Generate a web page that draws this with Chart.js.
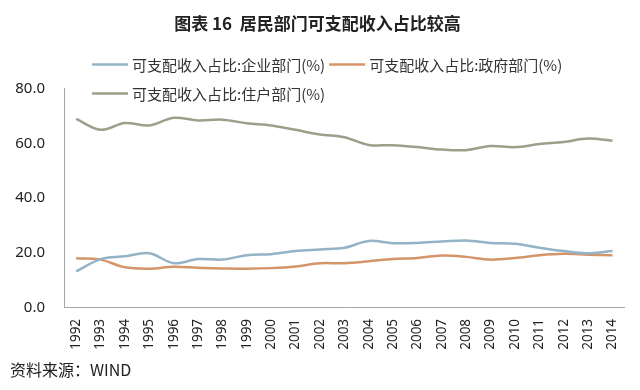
<!DOCTYPE html>
<html>
<head>
<meta charset="utf-8">
<script src="https://cdn.jsdelivr.net/npm/chart.js@4/dist/chart.umd.min.js"></script>
<style>
  html, body { margin: 0; padding: 0; background: #fff; }
  #wrap { width: 640px; height: 390px; }
</style>
</head>
<body>
<div id="wrap"><canvas id="myChart"></canvas></div>
<script>
// 年份
const years = ['1992', '1993', '1994', '1995', '1996', '1997', '1998', '1999', '2000', '2001', '2002', '2003',
  '2004', '2005', '2006', '2007', '2008', '2009', '2010', '2011', '2012', '2013', '2014'];

// 可支配收入占比 (%)
const corporate = [13.3, 17.8, 18.8, 19.9, 16.3, 17.8, 17.6, 19.2, 19.6, 20.7, 21.3, 21.9,
  24.4, 23.6, 23.7, 24.2, 24.6, 23.7, 23.4, 21.9, 20.7, 19.9, 20.7];
const government = [18.1, 17.6, 14.8, 14.3, 15.0, 14.6, 14.4, 14.3, 14.5, 15.1, 16.3, 16.3,
  17.0, 17.8, 18.2, 19.1, 18.6, 17.6, 18.2, 19.2, 19.7, 19.4, 19.2];
const households = [68.9, 64.9, 67.4, 66.5, 69.3, 68.3, 68.6, 67.3, 66.5, 64.9, 63.2, 62.2,
  59.4, 59.3, 58.6, 57.7, 57.5, 59.0, 58.6, 59.7, 60.5, 61.7, 60.9];

const seriesLabels = ['可支配收入占比:企业部门(%)', '可支配收入占比:政府部门(%)', '可支配收入占比:住户部门(%)'];
const yTicks = [0, 20, 40, 60, 80];

const FONT = '"Noto Sans", "Noto Sans CJK SC", sans-serif';
const CJK = '"Noto Sans CJK SC", sans-serif';

// 凡例は図の中に重ねて描く
const lineLegend = {
  id: 'lineLegend',
  afterDraw(chart) {
    const { ctx, chartArea } = chart;
    ctx.save();
    ctx.font = '15px ' + CJK;
    ctx.textBaseline = 'middle';
    const startX = chartArea.left + 28;
    let x = startX;
    let y = chartArea.top - 24;
    chart.data.datasets.forEach(ds => {
      const w = 40 + ctx.measureText(ds.label).width;
      if (x + w > chartArea.right) {
        x = startX;
        y += 29;
      }
      ctx.strokeStyle = ds.borderColor;
      ctx.lineWidth = 2.5;
      ctx.beginPath();
      ctx.moveTo(x, y);
      ctx.lineTo(x + 36, y);
      ctx.stroke();
      ctx.fillStyle = '#333';
      ctx.fillText(ds.label, x + 40, y + 1);
      x += w + 4;
    });
    ctx.restore();
  }
};

const line = (label, data, color) => ({
  label, data,
  borderColor: color,
  backgroundColor: color,
  borderWidth: 2.5,
  pointRadius: 0,
  tension: 0.35,
  fill: false,
});

const ctx = document.getElementById('myChart').getContext('2d');
new Chart(ctx, {
  type: 'line',
  data: {
    labels: years,
    datasets: [
      line(seriesLabels[0], corporate, '#93b3c6'),
      line(seriesLabels[1], government, '#d4956b'),
      line(seriesLabels[2], households, '#9d9f8b'),
    ],
  },
  options: {
    responsive: true,
    maintainAspectRatio: false,
    animation: false,
    layout: { padding: { left: 10, right: 15, top: 0, bottom: 0 } },
    plugins: {
      legend: { display: false },
      tooltip: { enabled: false },
      title: {
        display: true,
        text: '图表 16  居民部门可支配收入占比较高',
        color: '#222',
        font: { family: CJK, size: 17, weight: 'bold' },
        padding: { top: 13, bottom: 55 },
      },
      subtitle: {
        display: true,
        position: 'bottom',
        align: 'start',
        text: '资料来源：WIND',
        color: '#222',
        font: { family: CJK, size: 16 },
        padding: { top: 0, bottom: 10 },
      },
    },
    scales: {
      x: {
        offset: true,
        grid: { display: false, drawTicks: false },
        border: { display: true, color: '#a6a6a6', width: 1 },
        ticks: {
          autoSkip: false, maxRotation: 90, minRotation: 90, padding: 11,
          color: '#222', font: { family: FONT, size: 13.5 },
        },
      },
      y: {
        min: 0,
        max: 80,
        afterFit: s => { s.width = 54; },
        afterBuildTicks: s => { s.ticks = yTicks.map(v => ({ value: v })); },
        grid: { display: false, drawTicks: false },
        border: { display: true, color: '#a6a6a6', width: 1 },
        ticks: {
          padding: 19, color: '#222', font: { family: FONT, size: 15 },
          callback: v => v.toFixed(1),
        },
      },
    },
  },
  plugins: [lineLegend],
});
</script>
</body>
</html>
